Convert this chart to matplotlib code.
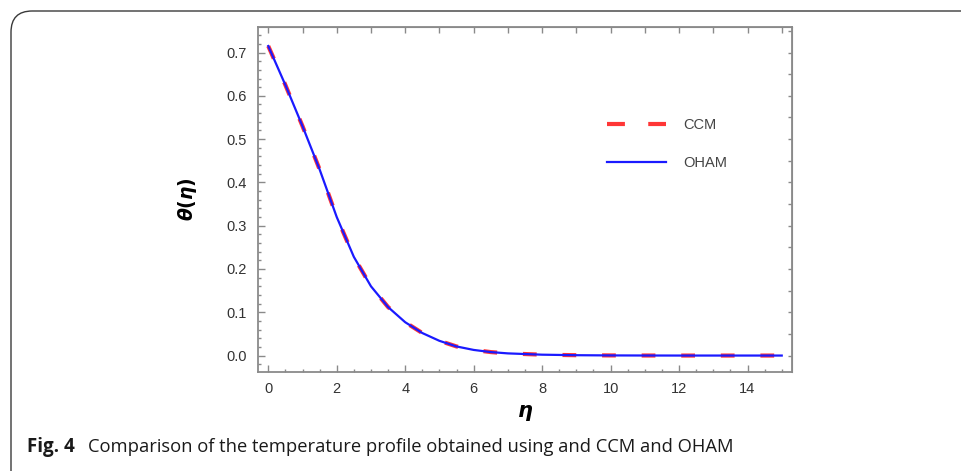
import numpy as np
import matplotlib
matplotlib.use("Agg")
import matplotlib.pyplot as plt
from matplotlib.patches import FancyBboxPatch
from matplotlib.ticker import MultipleLocator, NullFormatter

plt.rcParams['font.family'] = ['Liberation Sans', 'DejaVu Sans']

# values
eta = [0, 0.5, 1, 1.5, 2, 2.5, 3, 3.5, 4, 4.5, 5, 5.5, 6, 6.5, 7, 8, 9, 10, 11, 12, 13, 14, 15]
theta_ccm = [0.715, 0.625, 0.53, 0.43, 0.32, 0.228, 0.16, 0.112, 0.077, 0.052, 0.034,
             0.021, 0.013, 0.008, 0.005, 0.002, 0.0008, 0.0003, 0.0001, 0, 0, 0, 0]
theta_oham = [0.715, 0.625, 0.53, 0.43, 0.32, 0.228, 0.16, 0.112, 0.077, 0.052, 0.034,
              0.021, 0.013, 0.008, 0.005, 0.002, 0.0008, 0.0003, 0.0001, 0, 0, 0, 0]
series_names = ["CCM", "OHAM"]

W, H = 962, 471
fig = plt.figure(figsize=(W / 100, H / 100), dpi=100)

# rounded frame of the figure box
frame = FancyBboxPatch((11 / W, -0.2), 1.2, 1 - 11 / H + 0.2,
                       boxstyle="round,pad=0,rounding_size=0.022",
                       transform=fig.transFigure, fill=False,
                       edgecolor="#3a3a3a", linewidth=1.0, mutation_aspect=W / H)
fig.patches.append(frame)

ax = fig.add_axes([258 / W, 1 - 372 / H, (792 - 258) / W, (372 - 27) / H])

ccm, = ax.plot(eta, theta_ccm, color="#ff2020", linewidth=3.0,
               dashes=(3.3, 6.2), alpha=0.9, label=series_names[0], zorder=2)
oham, = ax.plot(eta, theta_oham, color="#1a1aff", linewidth=1.6,
                label=series_names[1], zorder=3)

ax.set_xlim(-0.3, 15.3)
ax.set_ylim(-0.038, 0.759)

gray = "#8a8a8a"
for s in ax.spines.values():
    s.set_color(gray)
    s.set_linewidth(1.3)

ax.xaxis.set_major_locator(MultipleLocator(2))
ax.xaxis.set_minor_locator(MultipleLocator(0.5))
ax.yaxis.set_major_locator(MultipleLocator(0.1))
ax.yaxis.set_minor_locator(MultipleLocator(0.02))
ax.yaxis.set_major_formatter(plt.FormatStrFormatter("%.1f"))
ax.tick_params(which="both", direction="in", color=gray, labelcolor="#333333",
               labelsize=10.5, width=1.0)
ax.tick_params(which="major", length=5)
ax.tick_params(axis="y", which="major", pad=8)
ax.tick_params(axis="x", which="major", pad=7)
ax.tick_params(which="minor", length=2.5)

# top and right ticks without labels
top = ax.secondary_xaxis("top")
top.xaxis.set_major_locator(MultipleLocator(1))
top.xaxis.set_major_formatter(NullFormatter())
top.tick_params(direction="in", length=4, color=gray, width=1.0)
top.spines["top"].set_color(gray)
right = ax.secondary_yaxis("right")
right.yaxis.set_major_locator(MultipleLocator(0.05))
right.yaxis.set_major_formatter(NullFormatter())
right.tick_params(direction="in", length=3, color=gray, width=1.0)
right.spines["right"].set_color(gray)

ax.set_xlabel(r"$\boldsymbol{\eta}$", fontsize=15, labelpad=5)
ax.set_ylabel(r"$\boldsymbol{\theta(\eta)}$", fontsize=13.5, labelpad=20)

leg = ax.legend(loc="upper left", bbox_to_anchor=(0.654, 0.735), frameon=False,
                fontsize=10.5, handlelength=4.0, handletextpad=1.2, labelspacing=1.6,
                borderpad=0, borderaxespad=0)
for t in leg.get_texts():
    t.set_color("#444444")
leg.get_lines()[0].set_dashes((4.3, 5.6))

fig.text(27 / W, 1 - 447 / H, "Fig. 4", fontsize=13.5, fontweight="bold",
         family=["Open Sans", "DejaVu Sans"], va="center", color="#1a1a1a")
fig.text(88 / W, 1 - 447 / H, "Comparison of the temperature profile obtained using and CCM and OHAM",
         fontsize=13.2, family=["Open Sans", "DejaVu Sans"], va="center", color="#1a1a1a")

fig.savefig("out.png", dpi=100)
